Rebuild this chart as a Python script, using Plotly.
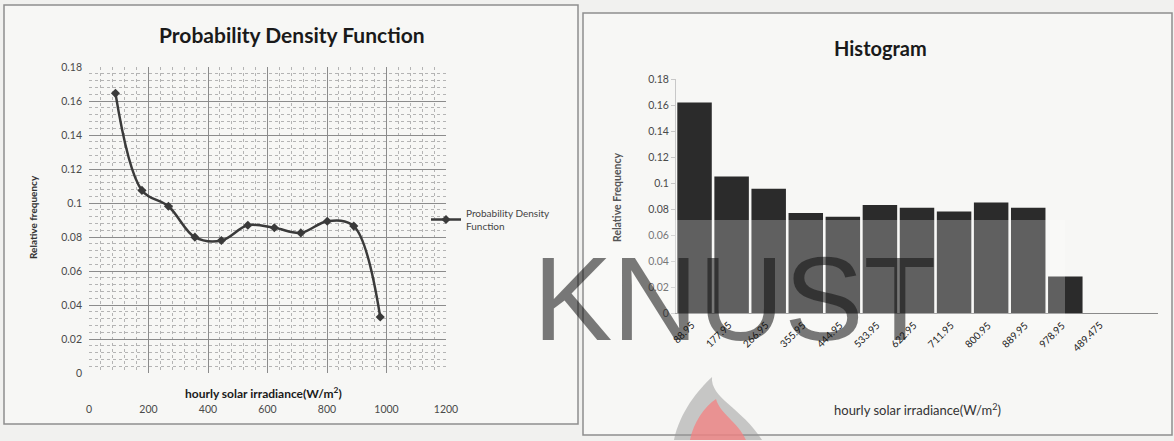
import plotly.graph_objects as go

# Canvas size in pixels
W, H = 1174, 441

# Class midpoints of hourly solar irradiance (W/m2)
bin_mid = [88.95, 177.95, 266.95, 355.95, 444.95, 533.95, 622.95, 711.95, 800.95, 889.95, 978.95]
# Probability density (relative frequency) at each midpoint
pdf_values = [0.1645, 0.1074, 0.0981, 0.0799, 0.0779, 0.0869, 0.0854, 0.0824, 0.0893, 0.0864, 0.0329]

# Histogram categories and relative frequencies (last category has no bar)
hist_labels = ["88.95", "177.95", "266.95", "355.95", "444.95", "533.95", "622.95",
               "711.95", "800.95", "889.95", "978.95", "489.475"]
hist_values = [0.162, 0.105, 0.0955, 0.077, 0.074, 0.083, 0.081, 0.078, 0.085, 0.081, 0.028, None]

FONT = "Lato, 'Liberation Sans', sans-serif"


def px(x):
    return x / W


def py(y):
    return 1 - y / H


fig = go.Figure()

fig.add_trace(go.Scatter(
    x=bin_mid, y=pdf_values, mode="lines+markers",
    name="Probability Density<br>Function",
    line=dict(shape="spline", smoothing=1.0, color="#3a3a3a", width=2.5),
    marker=dict(symbol="diamond", size=7, color="#3a3a3a"),
    xaxis="x", yaxis="y",
))

fig.add_trace(go.Bar(
    x=hist_labels, y=hist_values, marker=dict(color="#2b2b2b", line=dict(width=0)),
    xaxis="x2", yaxis="y2", showlegend=False,
))

tick_font = dict(family=FONT, size=10.5, color="#4a4a4a")

fig.update_layout(
    width=W, height=H,
    margin=dict(l=0, r=0, t=0, b=0),
    paper_bgcolor="#f1f1ef",
    plot_bgcolor="rgba(0,0,0,0)",
    font=dict(family=FONT, color="#222"),
    bargap=0.07,
    xaxis=dict(
        domain=[px(89), px(446)], range=[0, 1200], dtick=200, anchor="y",
        showgrid=True, gridcolor="#8c8c8c", gridwidth=1,
        minor=dict(dtick=40, showgrid=True, gridcolor="#b4b4b4", griddash="dot", gridwidth=1),
        zeroline=False, showline=False, ticks="", automargin=False,
        tickfont=tick_font, ticklabelstandoff=28,
    ),
    yaxis=dict(
        domain=[py(373), py(67)], range=[0, 0.18], dtick=0.02, anchor="x",
        showgrid=True, gridcolor="#8c8c8c", gridwidth=1,
        minor=dict(dtick=0.004, showgrid=True, gridcolor="#b4b4b4", griddash="dot", gridwidth=1),
        zeroline=False, showline=False, ticks="", automargin=False,
        tickfont=tick_font, ticklabelstandoff=6,
    ),
    xaxis2=dict(
        domain=[px(676), px(1158)], type="category", range=[-0.5, 12.5], anchor="y2",
        showgrid=False, showline=True, linecolor="#8a8a8a", linewidth=1.2,
        ticks="", showticklabels=False, automargin=False,
    ),
    yaxis2=dict(
        domain=[py(313), py(79)], range=[0, 0.18], dtick=0.02, anchor="x2",
        showgrid=False, zeroline=False, showline=True, linecolor="#c8c8c8",
        ticks="outside", ticklen=4, tickcolor="#c8c8c8", automargin=False,
        tickfont=tick_font,
    ),
    legend=dict(
        x=px(426), y=py(200), xanchor="left", yanchor="top",
        bgcolor="rgba(0,0,0,0)", font=dict(family=FONT, size=10, color="#444"),
        itemwidth=30,
    ),
)

# Panel frames
fig.add_shape(type="rect", xref="paper", yref="paper",
              x0=px(4), x1=px(578), y0=py(424), y1=py(5),
              line=dict(color="#8e8e8e", width=1.5), fillcolor="#f7f7f5", layer="below")
fig.add_shape(type="rect", xref="paper", yref="paper",
              x0=px(583), x1=px(1172), y0=py(435), y1=py(13),
              line=dict(color="#8e8e8e", width=1.5), fillcolor="#f7f7f5", layer="below")

# Translucent watermark band
fig.add_shape(type="rect", xref="paper", yref="paper",
              x0=px(585), x1=px(1065), y0=py(330), y1=py(220),
              line=dict(width=0), fillcolor="rgba(255,255,255,0.25)", layer="above")


# Flame logo of the watermark (SVG path in paper units)
def pt(x, y):
    return f"{px(x):.4f},{py(y):.4f}"


outer = (f"M {pt(674, 440)} C {pt(680, 412)} {pt(698, 390)} {pt(712, 377)} "
         f"C {pt(710, 398)} {pt(742, 408)} {pt(762, 440)} Z")
inner = (f"M {pt(690, 440)} C {pt(694, 422)} {pt(704, 407)} {pt(716, 399)} "
         f"C {pt(720, 414)} {pt(738, 422)} {pt(746, 440)} Z")
fig.add_shape(type="path", xref="paper", yref="paper", path=outer,
              line=dict(width=0), fillcolor="rgba(150,150,150,0.5)", layer="above")
fig.add_shape(type="path", xref="paper", yref="paper", path=inner,
              line=dict(width=0), fillcolor="rgba(244,128,128,0.75)", layer="above")

annotations = []

# Slanted category labels under the histogram, placed by category index on x2
for i, lab in enumerate(hist_labels):
    annotations.append(dict(
        text=lab, x=i + 0.15, xref="x2", y=py(316), yref="paper",
        textangle=-45, xanchor="right", yanchor="top",
        font=dict(family=FONT, size=10),
    ))

annotations += [
    dict(text="<b>Probability Density Function</b>", x=px(292), y=py(35),
         font=dict(size=21, color="#1a1a1a")),
    dict(text="<b>Histogram</b>", x=px(880), y=py(48),
         font=dict(size=20, color="#1a1a1a")),
    dict(text="<b>hourly solar irradiance(W/m<sup>2</sup>)</b>", x=px(263), y=py(393),
         font=dict(size=12, color="#1a1a1a")),
    dict(text="hourly solar irradiance(W/m<sup>2</sup>)", x=px(917), y=py(409),
         font=dict(size=13, color="#333")),
    dict(text="<b>Relative frequency</b>", x=px(33), y=py(217), textangle=-90,
         font=dict(size=10, color="#333")),
    dict(text="<b>Relative Frequency</b>", x=px(617), y=py(197), textangle=-90,
         font=dict(size=10.5, color="#555")),
    dict(text="KNUST", x=px(734), y=py(298),
         font=dict(family="'Liberation Sans', Arial, sans-serif", size=119,
                   color="rgba(15,15,15,0.55)")),
]

for a in annotations:
    a.setdefault("xref", "paper")
    a.setdefault("yref", "paper")
    a.setdefault("showarrow", False)
    a.setdefault("xanchor", "center")
    a.setdefault("yanchor", "middle")
    fig.add_annotation(**a)

fig.write_html("out.html")
